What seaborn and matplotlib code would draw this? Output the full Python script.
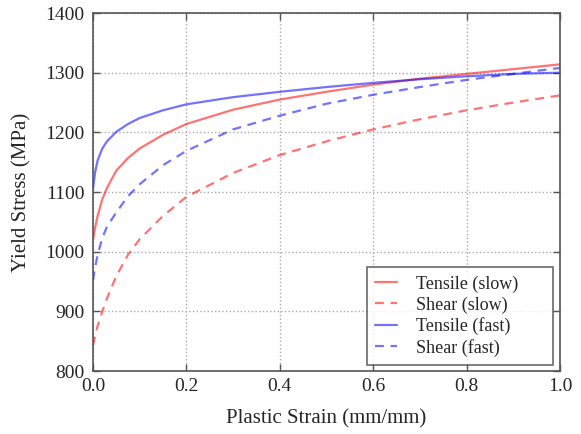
import numpy as np
import pandas as pd
import matplotlib
matplotlib.use("Agg")
import matplotlib.pyplot as plt
import seaborn as sns

# strain values (mm/mm)
strain = [0.0, 0.005, 0.01, 0.02, 0.03, 0.05, 0.075, 0.1, 0.15, 0.2,
          0.3, 0.4, 0.5, 0.6, 0.7, 0.8, 0.9, 1.0]

# yield stress (MPa)
tensile_slow = [1020, 1042, 1060, 1088, 1107, 1136, 1157, 1173, 1196, 1214,
                1238, 1255, 1268, 1280, 1290, 1298, 1306, 1314]
shear_slow = [843, 860, 876, 900, 922, 959, 995, 1021, 1060, 1092,
              1132, 1162, 1185, 1205, 1222, 1237, 1250, 1262]
tensile_fast = [1105, 1135, 1153, 1173, 1185, 1201, 1214, 1224, 1237, 1247,
                1259, 1268, 1276, 1283, 1289, 1294, 1298, 1300]
shear_fast = [952, 975, 995, 1023, 1042, 1066, 1093, 1113, 1145, 1169,
              1205, 1228, 1248, 1263, 1276, 1288, 1298, 1308]

series = {
    "Tensile (slow)": tensile_slow,
    "Shear (slow)": shear_slow,
    "Tensile (fast)": tensile_fast,
    "Shear (fast)": shear_fast,
}
df = pd.concat([pd.DataFrame({"strain": strain, "stress": v, "curve": k})
                for k, v in series.items()], ignore_index=True)

sns.set_style("white")
plt.rcParams['font.family'] = ['Liberation Serif', 'DejaVu Serif']
plt.rcParams['xtick.direction'] = 'in'
plt.rcParams['ytick.direction'] = 'in'

fig, ax = plt.subplots(figsize=(5.81, 4.34), dpi=100)
palette = {"Tensile (slow)": "#ff0000", "Shear (slow)": "#ff0000",
           "Tensile (fast)": "#0000ff", "Shear (fast)": "#0000ff"}
dashes = {"Tensile (slow)": "", "Shear (slow)": (4, 3),
          "Tensile (fast)": "", "Shear (fast)": (4, 3)}
sns.lineplot(data=df, x="strain", y="stress", hue="curve", style="curve",
             palette=palette, dashes=dashes, alpha=0.55, linewidth=1.6, ax=ax)

ax.set_xlim(0, 1.0)
ax.set_ylim(800, 1400)
ax.set_xticks(np.arange(0, 1.01, 0.2))
ax.set_yticks(np.arange(800, 1401, 100))
ax.grid(True, linestyle=':', color='#aaaaaa', linewidth=1)
ax.tick_params(labelsize=14, bottom=True, left=True, top=True, right=True,
               length=5, width=1, color='#555555')
ax.tick_params(axis='y', pad=6)
ax.tick_params(axis='x', pad=5)
for s in ax.spines.values():
    s.set_color('#555555')
    s.set_linewidth(1.2)
ax.set_xlabel("Plastic Strain (mm/mm)", fontsize=15, labelpad=10)
ax.set_ylabel("Yield Stress (MPa)", fontsize=15, labelpad=10)

# wide legend box like the reference
leg = ax.legend(loc='lower left', bbox_to_anchor=(0.587, 0.017, 0.398, 0.25),
                mode='expand', fontsize=13, frameon=True, fancybox=False,
                borderaxespad=0, handlelength=1.2, handletextpad=1.05,
                labelspacing=0.2, borderpad=0.45)
leg.get_frame().set_edgecolor('#444444')
leg.get_frame().set_linewidth(1.2)
leg.set_title(None)

fig.subplots_adjust(left=0.16, right=0.964, top=0.97, bottom=0.145)
fig.savefig("out.png", dpi=100)
